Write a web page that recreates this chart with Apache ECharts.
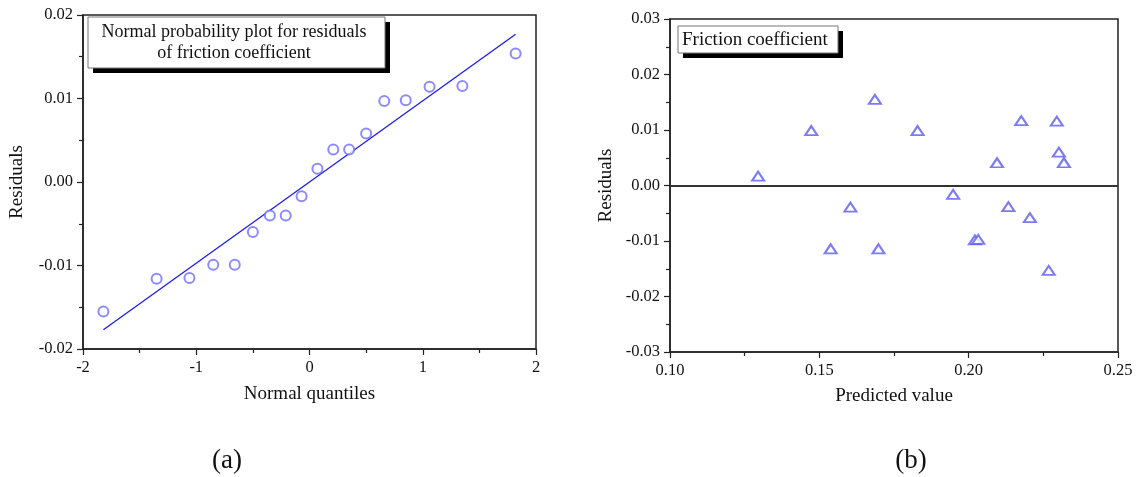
<!DOCTYPE html>
<html>
<head>
<meta charset="utf-8">
<script src="https://cdn.jsdelivr.net/npm/echarts@6/dist/echarts.min.js"></script>
<style>
html,body{margin:0;padding:0;background:#fff;}
#chart{width:1137px;height:477px;}
</style>
</head>
<body>
<div id="chart"></div>
<script>
// Panel (a): normal probability plot
const quantiles = [-1.82, -1.35, -1.06, -0.85, -0.66, -0.50, -0.35, -0.21, -0.07, 0.07, 0.21, 0.35, 0.50, 0.66, 0.85, 1.06, 1.35, 1.82];
const sortedResiduals = [-0.0155, -0.0116, -0.0115, -0.0099, -0.0099, -0.0060, -0.0040, -0.0040, -0.0017, 0.0016, 0.0039, 0.0039, 0.0058, 0.0097, 0.0098, 0.0114, 0.0115, 0.0154];
const fitX = [-1.82, 1.82];
const fitY = [-0.0177, 0.0177];
// Panel (b): residuals vs predicted value
const predicted = [0.1295, 0.1473, 0.1538, 0.1604, 0.1686, 0.1698, 0.1829, 0.1948, 0.2021, 0.2032, 0.2095, 0.2133, 0.2176, 0.2205, 0.2268, 0.2295, 0.2302, 0.2319];
const residuals = [0.0017, 0.0099, -0.0114, -0.0039, 0.0155, -0.0114, 0.0099, -0.0016, -0.0098, -0.0097, 0.0041, -0.0038, 0.0117, -0.0058, -0.0153, 0.0116, 0.0060, 0.0041];
// Texts
const legendA = ['Normal probability plot for residuals', 'of friction coefficient'];
const legendB = 'Friction coefficient';
const xTitleA = 'Normal quantiles';
const xTitleB = 'Predicted value';
const yTitle = 'Residuals';
const panelLabels = ['(a)', '(b)'];

const FONT = '"Liberation Serif", "Times New Roman", serif';
const AX = '#222';

function axisCommon(extra) {
  return Object.assign({
    type: 'value',
    axisLine: { show: true, onZero: false, lineStyle: { color: AX, width: 1.5 } },
    axisTick: { show: true, length: 6, lineStyle: { color: AX, width: 1.2 } },
    minorTick: { show: true, splitNumber: 2, length: 4, lineStyle: { color: AX, width: 1.2 } },
    splitLine: { show: false },
    nameLocation: 'middle',
    nameTextStyle: { fontFamily: FONT, fontSize: 19, color: '#111' },
    axisLabel: { fontFamily: FONT, fontSize: 16, color: '#111' }
  }, extra);
}

const chart = echarts.init(document.getElementById('chart'), null, { renderer: 'canvas' });

const option = {
  backgroundColor: '#fff',
  animation: false,
  grid: [
    { left: 83, top: 15, width: 453, height: 334, show: true, borderColor: AX, borderWidth: 1.5, backgroundColor: 'transparent' },
    { left: 670, top: 19, width: 448, height: 333, show: true, borderColor: AX, borderWidth: 1.5, backgroundColor: 'transparent' }
  ],
  xAxis: [
    axisCommon({ gridIndex: 0, min: -2, max: 2, interval: 1, name: xTitleA, nameGap: 36,
      axisLabel: { fontFamily: FONT, fontSize: 16.5, color: '#111', margin: 10, formatter: v => String(v) } }),
    axisCommon({ gridIndex: 1, min: 0.10, max: 0.25, interval: 0.05, name: xTitleB, nameGap: 35,
      axisLabel: { fontFamily: FONT, fontSize: 16.5, color: '#111', margin: 10, formatter: v => v.toFixed(2) } })
  ],
  yAxis: [
    axisCommon({ gridIndex: 0, min: -0.02, max: 0.02, interval: 0.01, name: yTitle, nameGap: 56,
      axisLabel: { fontFamily: FONT, fontSize: 16.5, color: '#111', margin: 10, formatter: v => (Math.abs(v) < 1e-9 ? 0 : v).toFixed(2) } }),
    axisCommon({ gridIndex: 1, min: -0.03, max: 0.03, interval: 0.01, name: yTitle, nameGap: 54,
      axisLabel: { fontFamily: FONT, fontSize: 16.5, color: '#111', margin: 10, formatter: v => (Math.abs(v) < 1e-9 ? 0 : v).toFixed(2) } })
  ],
  series: [
    {
      type: 'line', xAxisIndex: 0, yAxisIndex: 0,
      data: fitX.map((x, i) => [x, fitY[i]]),
      showSymbol: false, symbol: 'none',
      lineStyle: { color: '#1c1cf0', width: 1.3 },
      z: 2
    },
    {
      type: 'scatter', xAxisIndex: 0, yAxisIndex: 0,
      data: quantiles.map((q, i) => [q, sortedResiduals[i]]),
      symbol: 'emptyCircle', symbolSize: 10,
      itemStyle: { color: '#6e6eff', borderColor: '#6e6eff', borderWidth: 1 },
      z: 3
    },
    {
      type: 'scatter', xAxisIndex: 1, yAxisIndex: 1,
      data: predicted.map((p, i) => [p, residuals[i]]),
      symbol: 'emptyTriangle', symbolSize: [12, 9],
      itemStyle: { color: '#5a5af0', borderColor: '#5a5af0', borderWidth: 1 },
      z: 3,
      markLine: {
        silent: true, symbol: 'none', label: { show: false },
        lineStyle: { color: '#333', width: 1.8, type: 'solid' },
        data: [{ yAxis: 0 }]
      }
    }
  ],
  graphic: [
    // legend (a)
    { type: 'rect', shape: { x: 93, y: 22, width: 297, height: 51 }, style: { fill: '#000' }, z: 10 },
    { type: 'rect', shape: { x: 88, y: 17, width: 297, height: 51 }, style: { fill: '#fff', stroke: '#777', lineWidth: 1 }, z: 11 },
    { type: 'text', x: 234, y: 32, style: { text: legendA[0], font: '18px ' + FONT, fill: '#111', textAlign: 'center', textVerticalAlign: 'middle' }, z: 12 },
    { type: 'text', x: 234, y: 53, style: { text: legendA[1], font: '18px ' + FONT, fill: '#111', textAlign: 'center', textVerticalAlign: 'middle' }, z: 12 },
    // legend (b)
    { type: 'rect', shape: { x: 683, y: 31, width: 160, height: 27 }, style: { fill: '#000' }, z: 10 },
    { type: 'rect', shape: { x: 678, y: 26, width: 160, height: 27 }, style: { fill: '#fff', stroke: '#777', lineWidth: 1 }, z: 11 },
    { type: 'text', x: 682, y: 40, style: { text: legendB, font: '19px ' + FONT, fill: '#111', textAlign: 'left', textVerticalAlign: 'middle' }, z: 12 },
    // panel labels
    { type: 'text', x: 227, y: 461, style: { text: panelLabels[0], font: '27px ' + FONT, fill: '#111', textAlign: 'center', textVerticalAlign: 'middle' } },
    { type: 'text', x: 911, y: 461, style: { text: panelLabels[1], font: '27px ' + FONT, fill: '#111', textAlign: 'center', textVerticalAlign: 'middle' } }
  ]
};
chart.setOption(option);
</script>
</body>
</html>
